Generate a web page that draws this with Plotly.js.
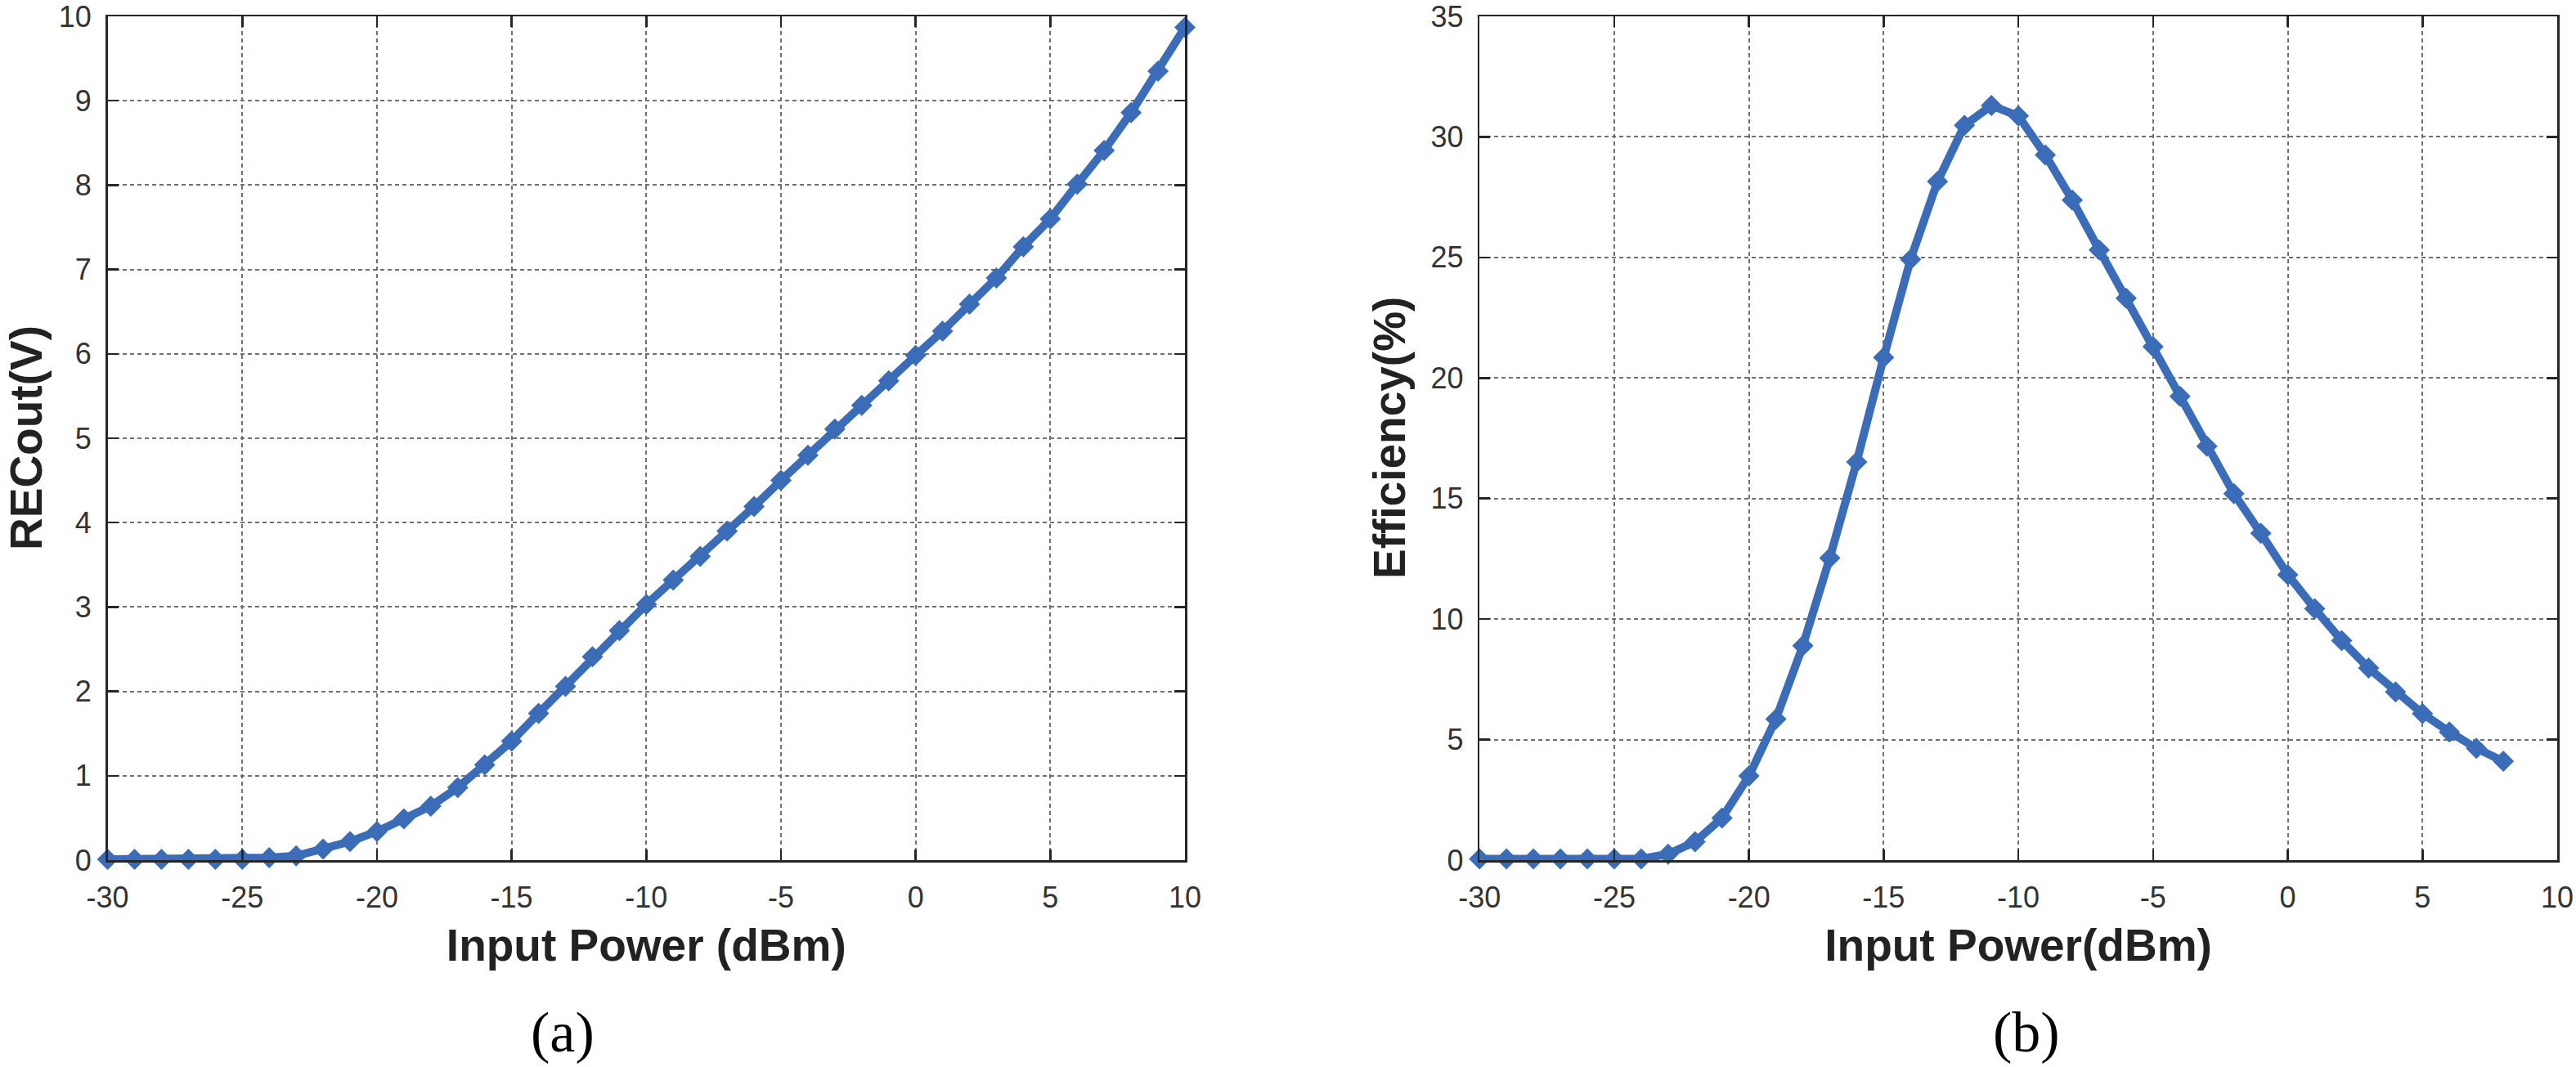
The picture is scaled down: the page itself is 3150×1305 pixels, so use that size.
<!DOCTYPE html>
<html>
<head>
<meta charset="utf-8">
<script src="https://cdn.plot.ly/plotly-3.0.1.min.js"></script>
<style>
html, body { margin: 0; padding: 0; background: #ffffff; }
#chart { width: 3150px; height: 1305px; }
</style>
</head>
<body>
<div id="chart"></div>
<script>
// ---- data ----
const inputPowerA = [-30, -29, -28, -27, -26, -25, -24, -23, -22, -21, -20, -19, -18, -17, -16, -15, -14, -13, -12, -11, -10,
                     -9, -8, -7, -6, -5, -4, -3, -2, -1, 0, 1, 2, 3, 4, 5, 6, 7, 8, 9, 10];
const recOut = [0.01, 0.01, 0.01, 0.01, 0.01, 0.01, 0.03, 0.05, 0.13, 0.22, 0.34, 0.49, 0.64, 0.86, 1.13, 1.41, 1.74, 2.06, 2.41, 2.72, 3.03,
                3.32, 3.60, 3.90, 4.19, 4.50, 4.80, 5.11, 5.39, 5.68, 5.98, 6.27, 6.59, 6.90, 7.27, 7.60, 8.01, 8.41, 8.86, 9.35, 9.87];

const inputPowerB = [-30, -29, -28, -27, -26, -25, -24, -23, -22, -21, -20, -19, -18, -17, -16, -15, -14, -13, -12, -11, -10,
                     -9, -8, -7, -6, -5, -4, -3, -2, -1, 0, 1, 2, 3, 4, 5, 6, 7, 8];
const efficiency = [0.05, 0.05, 0.05, 0.05, 0.05, 0.05, 0.05, 0.25, 0.76, 1.75, 3.49, 5.85, 8.89, 12.53, 16.52, 20.85, 24.92, 28.15, 30.48, 31.30, 30.87,
                    29.25, 27.38, 25.31, 23.31, 21.30, 19.24, 17.17, 15.20, 13.56, 11.84, 10.43, 9.11, 7.97, 6.98, 6.08, 5.32, 4.64, 4.10];

const xTickVals = [-30, -25, -20, -15, -10, -5, 0, 5, 10];
const xTickText = ['-30', '-25', '-20', '-15', '-10', '-5', '0', '5', '10'];
const yTickValsA = [0, 1, 2, 3, 4, 5, 6, 7, 8, 9, 10];
const yTickValsB = [0, 5, 10, 15, 20, 25, 30, 35];

const titleX_A = 'Input Power (dBm)';
const titleX_B = 'Input Power(dBm)';
const titleY_A = 'RECout(V)';
const titleY_B = 'Efficiency(%)';
const captions = ['(a)', '(b)'];

// ---- styling ----
const W = 3150, H = 1305;
const blue = '#3b6cb8';
const axisColor = '#262626';
const tickFont = { family: 'Liberation Sans, Arial, sans-serif', size: 36, color: '#333333' };
const titleFont = { family: 'Liberation Sans, Arial, sans-serif', size: 55, color: '#222222', weight: 'bold' };
const captionFont = { family: 'Liberation Serif, Times New Roman, serif', size: 70, color: '#000000' };

const plotTop = 20, plotBottom = 1052;
const yDom = [(H - plotBottom) / H, (H - plotTop) / H];
const yMid = (yDom[0] + yDom[1]) / 2;

function axisBase() {
  return {
    showline: true, linecolor: axisColor, linewidth: 2.5, mirror: 'ticks',
    ticks: 'inside', ticklen: 13, tickwidth: 2.5, tickcolor: axisColor,
    showgrid: true, gridcolor: '#707070', gridwidth: 2, griddash: '5px,4px',
    zeroline: false, tickfont: tickFont, fixedrange: true,
    ticklabeloverflow: 'allow'
  };
}

const traceA = {
  x: inputPowerA, y: recOut, xaxis: 'x', yaxis: 'y',
  type: 'scatter', mode: 'lines+markers', cliponaxis: false,
  line: { color: blue, width: 10 },
  marker: { symbol: 'diamond', size: 20, color: blue },
  showlegend: false
};
const traceB = {
  x: inputPowerB, y: efficiency, xaxis: 'x2', yaxis: 'y2',
  type: 'scatter', mode: 'lines+markers', cliponaxis: false,
  line: { color: blue, width: 10 },
  marker: { symbol: 'diamond', size: 20, color: blue },
  showlegend: false
};

const layout = {
  width: W, height: H,
  margin: { l: 0, r: 0, t: 0, b: 0 },
  paper_bgcolor: '#ffffff', plot_bgcolor: '#ffffff',
  showlegend: false,
  xaxis: Object.assign(axisBase(), {
    domain: [131.6 / W, 1449 / W], range: [-30, 10], anchor: 'y',
    tickmode: 'array', tickvals: xTickVals, ticktext: xTickText, ticklabelstandoff: 12,
    title: { text: titleX_A, font: titleFont, standoff: 20 }
  }),
  yaxis: Object.assign(axisBase(), {
    domain: yDom, range: [0, 10], anchor: 'x',
    tickmode: 'array', tickvals: yTickValsA, ticklabelstandoff: 10
  }),
  xaxis2: Object.assign(axisBase(), {
    domain: [1809.2 / W, 3127 / W], range: [-30, 10], anchor: 'y2',
    tickmode: 'array', tickvals: xTickVals, ticktext: xTickText, ticklabelstandoff: 12,
    title: { text: titleX_B, font: titleFont, standoff: 20 }
  }),
  yaxis2: Object.assign(axisBase(), {
    domain: yDom, range: [0, 35], anchor: 'x2',
    tickmode: 'array', tickvals: yTickValsB, ticklabelstandoff: 10
  }),
  annotations: [
    { text: titleY_A, xref: 'paper', yref: 'paper', x: 32 / W, y: yMid, textangle: -90,
      xanchor: 'center', yanchor: 'middle', showarrow: false, font: titleFont },
    { text: titleY_B, xref: 'paper', yref: 'paper', x: 1699 / W, y: yMid, textangle: -90,
      xanchor: 'center', yanchor: 'middle', showarrow: false, font: titleFont },
    { text: captions[0], xref: 'paper', yref: 'paper', x: 688 / W, y: (H - 1262) / H,
      xanchor: 'center', yanchor: 'middle', showarrow: false, font: captionFont },
    { text: captions[1], xref: 'paper', yref: 'paper', x: 2478 / W, y: (H - 1262) / H,
      xanchor: 'center', yanchor: 'middle', showarrow: false, font: captionFont }
  ]
};

Plotly.newPlot('chart', [traceA, traceB], layout, { staticPlot: true, displayModeBar: false });
</script>
</body>
</html>
